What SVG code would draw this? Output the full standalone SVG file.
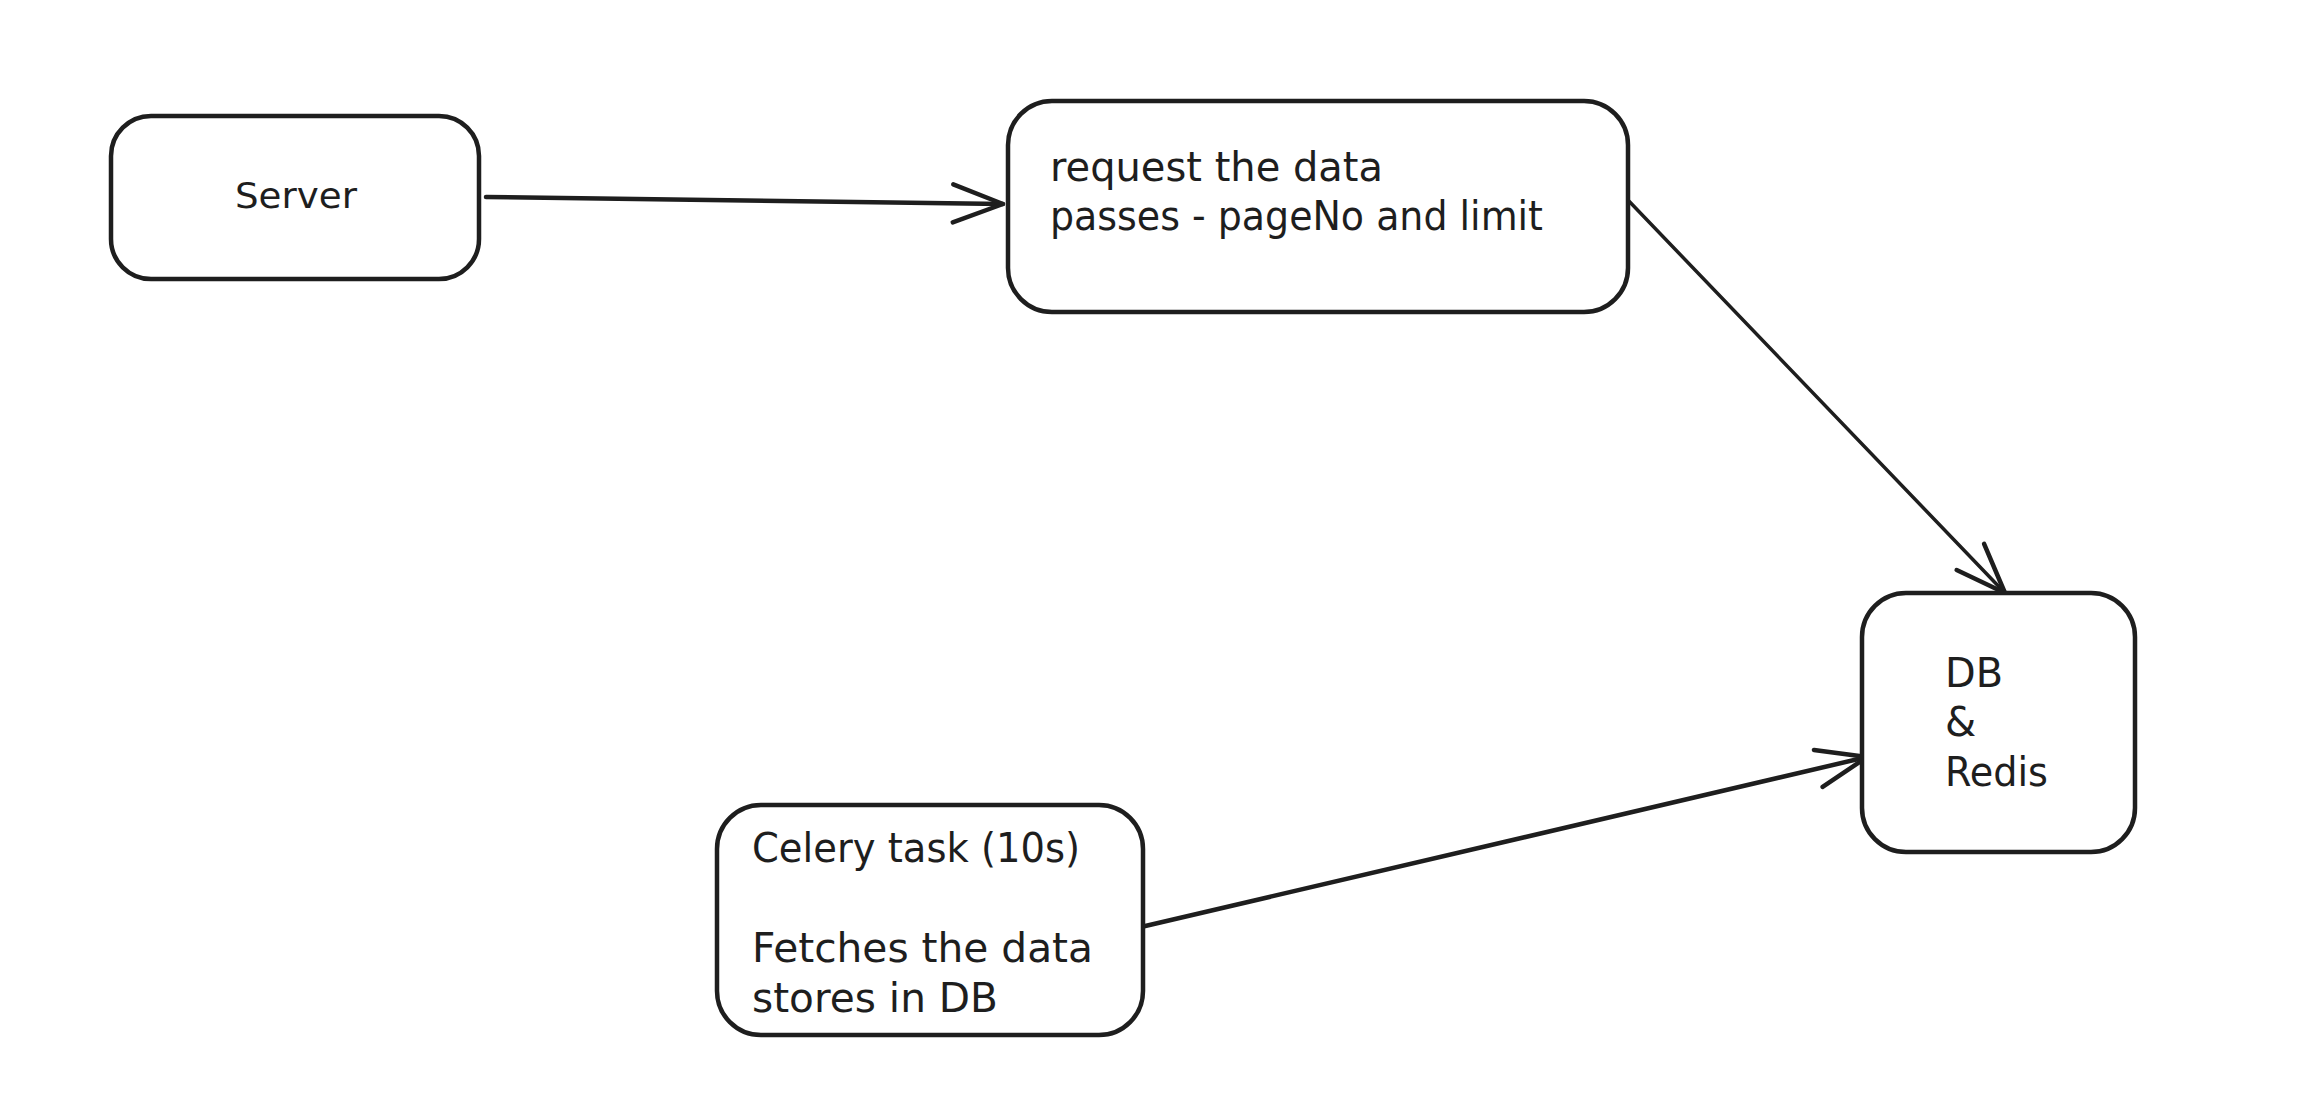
<svg xmlns="http://www.w3.org/2000/svg" width="2324" height="1114" viewBox="0 0 2324 1114">
  <defs>
    <style>
      .box { fill: #ffffff; stroke: #1e1e1e; stroke-width: 4.5; }
      .edge { fill: none; stroke: #1e1e1e; stroke-width: 4.5; stroke-linecap: round; }
      .lbl { font-family: "DejaVu Sans", "Noto Sans", sans-serif; font-size: 40px; fill: #1e1e1e; }
    </style>
    <marker id="ah" markerUnits="userSpaceOnUse" markerWidth="64" markerHeight="48" viewBox="-58 -24 64 48" refX="0" refY="0" orient="auto" overflow="visible">
      <path d="M-50,-19 L0,0 L-50,19" fill="none" stroke="#1e1e1e" stroke-width="4.5" stroke-linecap="round" stroke-linejoin="round"/>
    </marker>
  </defs>
  <rect width="2324" height="1114" fill="#ffffff"/>

  <g id="connectors">
    <path class="edge" d="M486,197 L1003,204" marker-end="url(#ah)"/>
    <path class="edge" d="M1625,197 L2005,593" style="stroke-width:3.5" marker-end="url(#ah)"/>
    <path class="edge" d="M1141,927 L1867,757" marker-end="url(#ah)"/>
  </g>

  <g id="server">
    <rect class="box" x="111" y="116" width="368" height="163" rx="40" ry="40"/>
    <text class="lbl" x="235" y="208" style="font-size:36px" textLength="122" lengthAdjust="spacingAndGlyphs">Server</text>
  </g>

  <g id="request">
    <rect class="box" x="1008" y="101" width="620" height="211" rx="44" ry="44"/>
    <text class="lbl" x="1050" y="181" textLength="333" lengthAdjust="spacingAndGlyphs">request the data</text>
    <text class="lbl" x="1050" y="230" textLength="493" lengthAdjust="spacingAndGlyphs">passes - pageNo and limit</text>
  </g>

  <g id="db">
    <rect class="box" x="1862" y="593" width="273" height="259" rx="44" ry="44"/>
    <text class="lbl" x="1945" y="687" textLength="58" lengthAdjust="spacingAndGlyphs">DB</text>
    <text class="lbl" x="1945" y="736">&amp;</text>
    <text class="lbl" x="1945" y="786" textLength="103" lengthAdjust="spacingAndGlyphs">Redis</text>
  </g>

  <g id="celery">
    <rect class="box" x="717" y="805" width="426" height="230" rx="44" ry="44"/>
    <text class="lbl" x="752" y="862" textLength="328" lengthAdjust="spacingAndGlyphs">Celery task (10s)</text>
    <text class="lbl" x="752" y="962" textLength="341" lengthAdjust="spacingAndGlyphs">Fetches the data</text>
    <text class="lbl" x="752" y="1012" textLength="246" lengthAdjust="spacingAndGlyphs">stores in DB</text>
  </g>
</svg>
